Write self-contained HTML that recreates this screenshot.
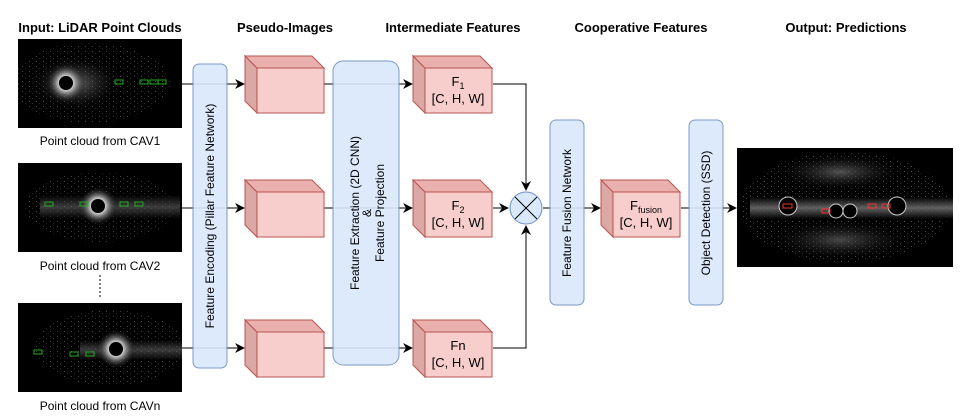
<!DOCTYPE html>
<html><head><meta charset="utf-8"><style>
html,body{margin:0;padding:0;background:#fff;}
svg{display:block;font-family:"Liberation Sans",Arial,sans-serif;}
</style></head><body>
<svg width="978" height="419" viewBox="0 0 978 419" xmlns="http://www.w3.org/2000/svg">
<defs>
<marker id="ah" markerWidth="10" markerHeight="10" refX="9" refY="5" orient="auto" markerUnits="userSpaceOnUse">
<path d="M0,0 L10,5 L0,10 L3,5 Z" fill="#000"/></marker>
<radialGradient id="glow" cx="50%" cy="50%" r="50%">
<stop offset="0" stop-color="#fff"/><stop offset="0.4" stop-color="#bbb"/><stop offset="1" stop-color="#000" stop-opacity="0"/></radialGradient>
<radialGradient id="haze" cx="50%" cy="50%" r="50%">
<stop offset="0" stop-color="#666"/><stop offset="1" stop-color="#000" stop-opacity="0"/></radialGradient>
<linearGradient id="band" x1="0" y1="0" x2="0" y2="1">
<stop offset="0" stop-color="#000"/><stop offset="0.5" stop-color="#777"/><stop offset="1" stop-color="#000"/></linearGradient>
<pattern id="spk" width="7" height="5" patternUnits="userSpaceOnUse">
<rect x="1" y="1" width="1" height="1" fill="#888"/><rect x="4" y="3" width="1" height="1" fill="#555"/></pattern>
<clipPath id="k1"><rect x="18" y="39" width="164" height="89"/></clipPath>
<clipPath id="k2"><rect x="18" y="163" width="164" height="89"/></clipPath>
<clipPath id="k3"><rect x="18" y="303" width="164" height="89"/></clipPath>
<clipPath id="k4"><rect x="737" y="148" width="216" height="119"/></clipPath>
</defs>

<g font-weight="bold" font-size="13" text-anchor="middle" fill="#000">
<text x="100" y="32">Input: LiDAR Point Clouds</text>
<text x="285" y="32">Pseudo-Images</text>
<text x="453" y="32">Intermediate Features</text>
<text x="641" y="32">Cooperative Features</text>
<text x="846" y="32">Output: Predictions</text>
</g>

<!-- point clouds -->
<rect x="18" y="39" width="164" height="89" fill="#000"/>
<g clip-path="url(#k1)">
<ellipse cx="75" cy="83" rx="50" ry="30" fill="url(#haze)"/>
<ellipse cx="90" cy="83" rx="80" ry="40" fill="url(#spk)" opacity="0.5"/>
<circle cx="66" cy="83" r="20" fill="url(#glow)"/>
<circle cx="66" cy="83" r="7" fill="#000"/>
</g>
<g fill="none" stroke="#2a2" stroke-width="1"><rect x="115" y="80" width="8" height="4"/><rect x="140" y="80" width="8" height="4"/><rect x="150" y="80" width="8" height="4"/><rect x="158" y="80" width="8" height="4"/></g>

<rect x="18" y="163" width="164" height="89" fill="#000"/>
<g clip-path="url(#k2)">
<ellipse cx="100" cy="207" rx="75" ry="35" fill="url(#spk)" opacity="0.5"/>
<rect x="40" y="195" width="140" height="24" fill="url(#band)" opacity="0.5"/>
<circle cx="98" cy="206" r="20" fill="url(#glow)"/>
<circle cx="98" cy="206" r="7" fill="#000"/>
</g>
<g fill="none" stroke="#2a2"><rect x="45" y="202" width="8" height="4"/><rect x="80" y="202" width="8" height="4"/><rect x="120" y="202" width="8" height="4"/><rect x="135" y="202" width="8" height="4"/></g>

<rect x="18" y="303" width="164" height="89" fill="#000"/>
<g clip-path="url(#k3)">
<ellipse cx="110" cy="348" rx="75" ry="38" fill="url(#spk)" opacity="0.5"/>
<rect x="80" y="340" width="102" height="20" fill="url(#band)" opacity="0.5"/>
<circle cx="116" cy="349" r="20" fill="url(#glow)"/>
<circle cx="116" cy="349" r="7" fill="#000"/>
</g>
<g fill="none" stroke="#2a2"><rect x="34" y="350" width="8" height="4"/><rect x="70" y="352" width="8" height="4"/><rect x="86" y="352" width="8" height="4"/></g>

<g font-size="12" text-anchor="middle" fill="#000">
<text x="100" y="145">Point cloud from CAV1</text>
<text x="100" y="270">Point cloud from CAV2</text>
<text x="100" y="410">Point cloud from CAVn</text>
</g>
<line x1="100" y1="275" x2="100" y2="298" stroke="#000" stroke-dasharray="2,2"/>

<!-- connectors -->
<g stroke="#000" stroke-width="1" fill="none">
<line x1="182" y1="84" x2="244" y2="84" marker-end="url(#ah)"/>
<line x1="182" y1="208" x2="244" y2="208" marker-end="url(#ah)"/>
<line x1="182" y1="348" x2="244" y2="348" marker-end="url(#ah)"/>
<line x1="324" y1="84" x2="412" y2="84" marker-end="url(#ah)"/>
<line x1="324" y1="208" x2="412" y2="208" marker-end="url(#ah)"/>
<line x1="324" y1="348" x2="412" y2="348" marker-end="url(#ah)"/>
<polyline points="493,84 526,84 526,190" marker-end="url(#ah)"/>
<polyline points="493,348 526,348 526,226" marker-end="url(#ah)"/>
<line x1="493" y1="208" x2="508" y2="208" marker-end="url(#ah)"/>
<line x1="543" y1="208" x2="600" y2="208" marker-end="url(#ah)"/>
<line x1="681" y1="208" x2="736" y2="208" marker-end="url(#ah)"/>
</g>

<!-- blue bars -->
<g fill="#dae8fc" stroke="#6c8ebf" stroke-width="1" opacity="0.9">
<rect x="193" y="64" width="34" height="304" rx="6"/>
<rect x="333" y="61" width="66" height="304" rx="10"/>
<rect x="550" y="120" width="34" height="185" rx="6"/>
<rect x="689" y="120" width="34" height="185" rx="6"/>
</g>
<g font-size="12" text-anchor="middle" fill="#000">
<text transform="translate(214,216) rotate(-90)">Feature Encoding (Pillar Feature Network)</text>
<text transform="translate(359,213) rotate(-90)">Feature Extraction (2D CNN)</text>
<text transform="translate(371,213) rotate(-90)">&amp;</text>
<text transform="translate(384,213) rotate(-90)">Feature Projection</text>
<text transform="translate(571,213) rotate(-90)">Feature Fusion Network</text>
<text transform="translate(710,213) rotate(-90)">Object Detection (SSD)</text>
</g>

<!-- cubes -->
<g stroke="#b85450" stroke-width="1">
<path d="M245,56 L257,68 L257,113 L245,101 Z" fill="#dba8a6"/>
<path d="M245,56 L312,56 L324,68 L257,68 Z" fill="#eab0ae"/>
<rect x="257" y="68" width="67" height="45" fill="#f8cecc"/>
<path d="M245,180 L257,192 L257,237 L245,225 Z" fill="#dba8a6"/>
<path d="M245,180 L312,180 L324,192 L257,192 Z" fill="#eab0ae"/>
<rect x="257" y="192" width="67" height="45" fill="#f8cecc"/>
<path d="M245,320 L257,332 L257,377 L245,365 Z" fill="#dba8a6"/>
<path d="M245,320 L312,320 L324,332 L257,332 Z" fill="#eab0ae"/>
<rect x="257" y="332" width="67" height="45" fill="#f8cecc"/>

<path d="M413,56 L425,68 L425,113 L413,101 Z" fill="#dba8a6"/>
<path d="M413,56 L480,56 L492,68 L425,68 Z" fill="#eab0ae"/>
<rect x="425" y="68" width="67" height="45" fill="#f8cecc"/>
<path d="M413,180 L425,192 L425,237 L413,225 Z" fill="#dba8a6"/>
<path d="M413,180 L480,180 L492,192 L425,192 Z" fill="#eab0ae"/>
<rect x="425" y="192" width="67" height="45" fill="#f8cecc"/>
<path d="M413,320 L425,332 L425,377 L413,365 Z" fill="#dba8a6"/>
<path d="M413,320 L480,320 L492,332 L425,332 Z" fill="#eab0ae"/>
<rect x="425" y="332" width="67" height="45" fill="#f8cecc"/>

<path d="M601,180 L613,192 L613,237 L601,225 Z" fill="#dba8a6"/>
<path d="M601,180 L668,180 L680,192 L613,192 Z" fill="#eab0ae"/>
<rect x="613" y="192" width="67" height="45" fill="#f8cecc"/>
</g>
<g font-size="13" text-anchor="middle" fill="#000">
<text x="458" y="86">F<tspan font-size="9" dy="3">1</tspan></text>
<text x="458" y="103">[C, H, W]</text>
<text x="458" y="210">F<tspan font-size="9" dy="3">2</tspan></text>
<text x="458" y="227">[C, H, W]</text>
<text x="458" y="350">Fn</text>
<text x="458" y="367">[C, H, W]</text>
<text x="646" y="210">F<tspan font-size="9" dy="3">fusion</tspan></text>
<text x="646" y="227">[C, H, W]</text>
</g>

<!-- fusion circle -->
<circle cx="526" cy="208" r="16" fill="#dae8fc" stroke="#6c8ebf"/>
<g stroke="#000"><line x1="515" y1="197" x2="537" y2="219"/><line x1="537" y1="197" x2="515" y2="219"/></g>

<!-- output -->
<rect x="737" y="148" width="216" height="119" fill="#000"/>
<g clip-path="url(#k4)">
<ellipse cx="845" cy="207" rx="105" ry="55" fill="url(#spk)" opacity="0.6"/>
<ellipse cx="840" cy="172" rx="70" ry="20" fill="url(#haze)" opacity="0.8"/>
<ellipse cx="840" cy="240" rx="80" ry="22" fill="url(#haze)" opacity="0.7"/>
<rect x="750" y="197" width="203" height="22" fill="url(#band)" opacity="0.8"/>
<g fill="#000" stroke="#ccc"><circle cx="788" cy="206" r="9"/><circle cx="897" cy="206" r="9"/><circle cx="836" cy="211" r="7"/><circle cx="850" cy="211" r="7"/></g>
</g>
<g fill="none" stroke="#e33"><rect x="783" y="204" width="9" height="4"/><rect x="822" y="209" width="8" height="4"/><rect x="868" y="204" width="8" height="4"/><rect x="882" y="204" width="8" height="4"/></g>
</svg>
</body></html>
